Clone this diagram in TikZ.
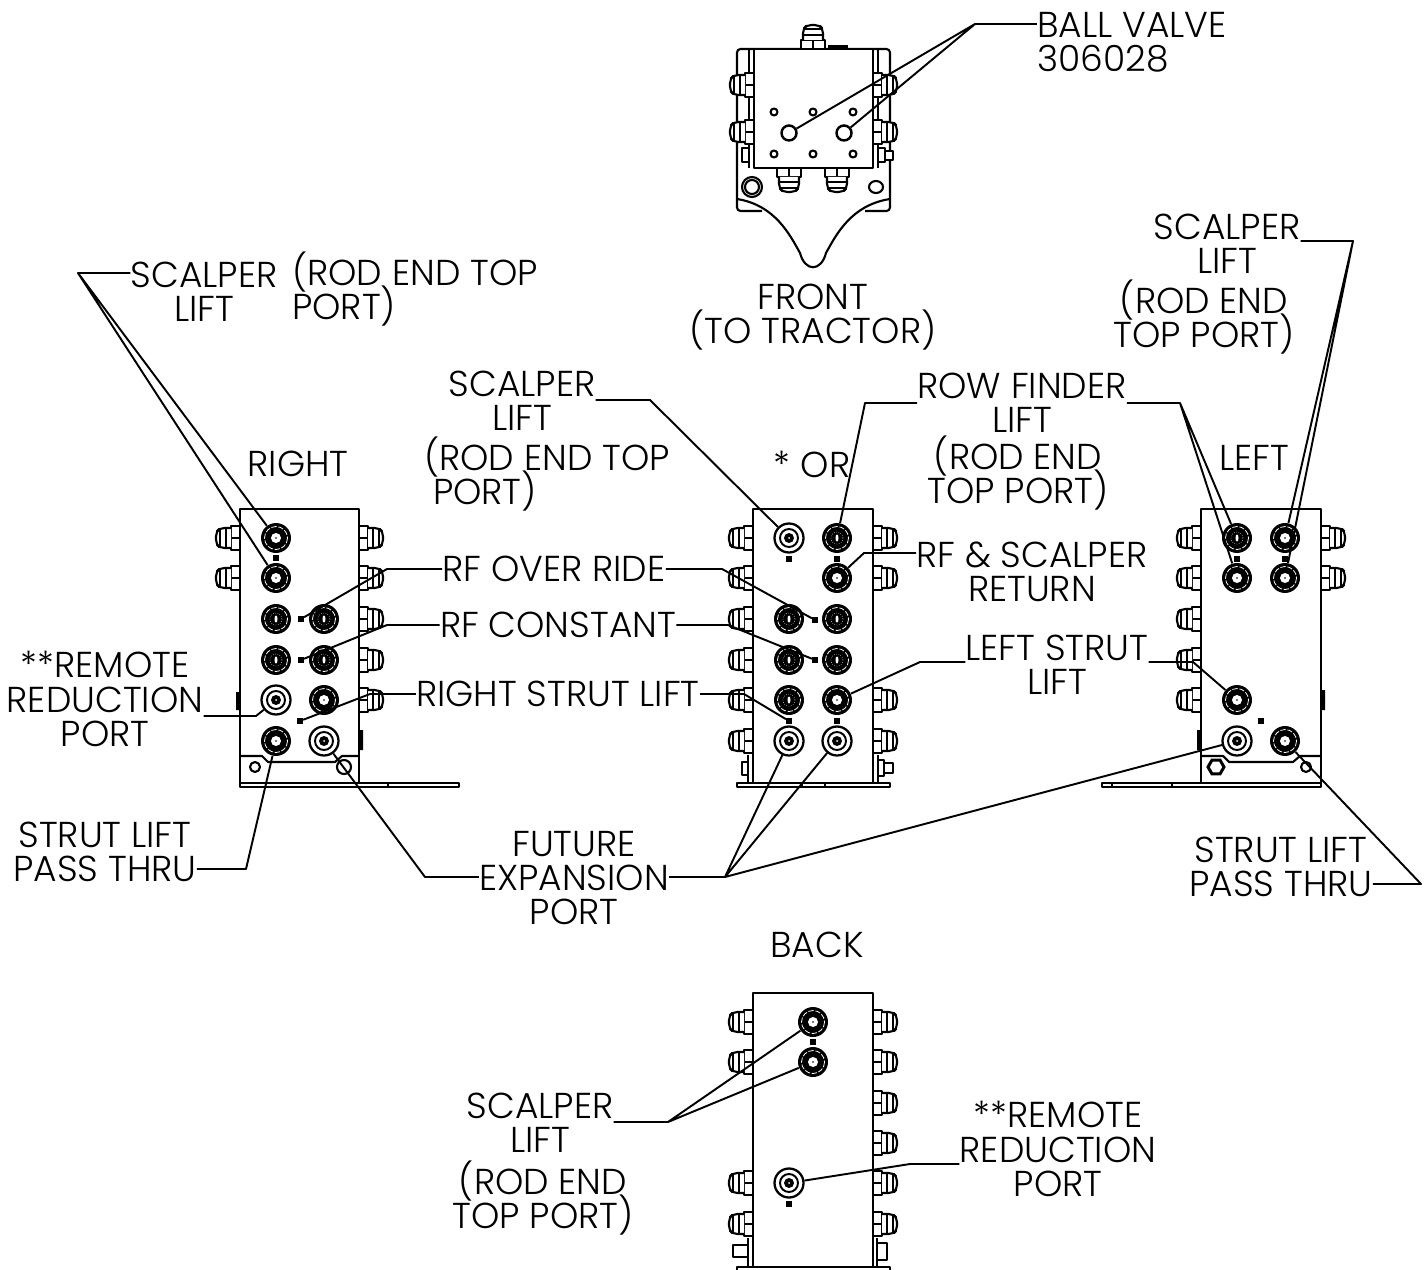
\documentclass[tikz,border=0pt]{standalone}
\usepackage{fontspec}
\usetikzlibrary{shapes.geometric}
\setmainfont{Poppins Light}
\tikzset{
  lbl/.style={align=center,inner sep=0pt,font=\fontsize{20.5}{19.4}\selectfont\lineskiplimit-20pt\relax},
  lbll/.style={lbl,align=left},
  part/.style={line width=1.2pt,line join=round},
  fine/.style={line width=.8pt},
  leader/.style={line width=1.1pt,line join=round},
  sq/.style={rectangle,fill=black,inner sep=0pt,minimum size=.11cm},
  portA/.style={circle,fill=black,inner sep=0pt,minimum size=.6cm,path picture={
    \draw[white,line width=.45pt,dash pattern=on 3pt off 1pt] (path picture bounding box.center) circle (11.5);
    \fill[white] (path picture bounding box.center) circle (5);
    \fill[black!70] (path picture bounding box.center) circle (1.2);}},
  portB/.style={circle,fill=black,inner sep=0pt,minimum size=.6cm,path picture={
    \draw[white,line width=.45pt,dash pattern=on 3pt off 1pt] (path picture bounding box.center) circle (11.5);
    \draw[white,line width=.3pt,densely dotted] (path picture bounding box.center) circle (6);
    \fill[white] (path picture bounding box.center) ellipse (1.5 and 3.5);}},
  portC/.style={circle,draw,line width=1.3pt,fill=white,inner sep=0pt,minimum size=.58cm,path picture={
    \draw[line width=1.1pt] (path picture bounding box.center) circle (9);
    \fill[black] (path picture bounding box.center) circle (5);
    \fill[white] (path picture bounding box.center) circle (1);}},
  fitting/.pic={
    \draw[part,fill=white] (0,-12)--(-9,-12)--(-9,12)--(0,12);
    \draw[part] (-9,0)--(0,0);
    \draw[part,fill=white,rounded corners=2.5pt] (-9,-10)--(-20,-10)--(-24,-6)--(-24,6)--(-20,10)--(-9,10);
    \draw[line width=1.6pt] (-20,-10)--(-20,10);
    \draw[part] (-14,-10)--(-14,10);}
}
\begin{document}
\begin{tikzpicture}[x=.02cm,y=-.02cm]
\useasboundingbox (0,0) rectangle (1427,1270);
%front
\draw[part,rounded corners=2pt](762,211)--(737,211)--(737,49)--(890,49)--(890,211)--(865,211);
\draw[part](737,199)..controls(775,205)and(790,235)..(800,253)..controls(805,272)and(821,272)..(826,253)..controls(836,235)and(851,205)..(890,199);
\draw[part](749,49)--(749,168)(878,49)--(878,168);
\fill(828,45)rectangle(848,49);
\draw[part,fill=white](742,148)rectangle(749,162);
\draw[part,fill=white](878,148)rectangle(885,162)(885,151)rectangle(893,160);
\foreach \yy in {85,132}{
  \pic at (754,\yy) {fitting};
  \pic[xscale=-1] at (873,\yy) {fitting};
}
\pic[rotate=-90] at (813,49) {fitting};
\pic[rotate=90] at (789,168) {fitting};
\pic[rotate=90] at (837,168) {fitting};
\draw[part,fill=white](754,49)rectangle(873,168);
\foreach \xx in {774,813,853}{
  \draw[part](\xx,112)circle(3.5);
  \draw[part](\xx,154)circle(3.5);
}
\node[circle,draw,line width=1.4pt,inner sep=0pt,minimum size=.3cm](fA)at(789,133){};
\node[circle,draw,line width=1.4pt,inner sep=0pt,minimum size=.3cm](fB)at(844,133){};
\draw[part](752,187)circle(10)(752,187)circle(7);
\draw[part](876,187)ellipse(7 and 6);
%right
\foreach \yy in {538,578}{\pic at (240,\yy) {fitting};}
\foreach \yy in {538,578,619,660,700}{\pic[xscale=-1] at (359,\yy) {fitting};}
\fill(236,692)rectangle(240,710)(359,730)rectangle(363,750);
\draw[part,fill=white](240,509)rectangle(359,783);
\draw[part](240,756)--(262,756)--(268,762)--(335,762)--(342,756)--(359,756);
\draw[part](255,767)circle(5)(344,767)circle(7);
\draw[part,fill=white](240,783)rectangle(459,787);
\draw[fine](388,783)--(388,787);
\foreach \nm/\st/\xx/\yy in {rAa/portA/276/538,rBa/portA/276/578,rCa/portB/276/619,rCb/portB/324/619,rDa/portB/276/660,rDb/portB/324/660,rEa/portC/276/700,rEb/portA/324/700,rFa/portA/276/741,rFb/portC/324/741}
  \node[\st](\nm)at(\xx,\yy){};
\foreach \nm/\xx/\yy in {rSa/276/558,rSb/301/619,rSc/301/660,rSd/300/721}
  \node[sq](\nm)at(\xx,\yy){};
%center
\foreach \yy in {538,578,619,660,700,741}{\pic at (753,\yy) {fitting};}
\foreach \yy in {538,578,700,741}{\pic[xscale=-1] at (873,\yy) {fitting};}
\draw[part](748,755)--(748,783)(878,755)--(878,783);
\draw[part,fill=white](742,762)rectangle(748,775);
\draw[part,fill=white](878,760)rectangle(884,776)(884,763)rectangle(893,773);
\draw[part,fill=white](753,509)rectangle(873,783);
\draw[part,fill=white](737,783)rectangle(890,787);
\draw[fine](802,783)--(802,787)(825,783)--(825,787);
\foreach \nm/\st/\xx/\yy in {cAa/portC/789/538,cAb/portB/837/538,cBb/portA/837/578,cCa/portB/789/619,cCb/portB/837/619,cDa/portB/789/660,cDb/portB/837/660,cEa/portB/789/700,cEb/portA/837/700,cFa/portC/789/741,cFb/portC/837/741}
  \node[\st](\nm)at(\xx,\yy){};
\foreach \nm/\xx/\yy in {cSa/789/559,cSb/837/559,cSc/815/620,cSd/815/660,cSe/789/721,cSf/837/721}
  \node[sq](\nm)at(\xx,\yy){};
%left
\foreach \yy in {538,578,619,660,700}{\pic at (1201,\yy) {fitting};}
\foreach \yy in {538,578}{\pic[xscale=-1] at (1321,\yy) {fitting};}
\fill(1321,690)rectangle(1325,710)(1197,730)rectangle(1201,750);
\draw[part,fill=white](1201,509)rectangle(1321,783);
\draw[part](1201,756)--(1223,756)--(1229,762)--(1293,762)--(1300,756)--(1321,756);
\node[draw,regular polygon,regular polygon sides=6,inner sep=0pt,minimum size=.32cm,line width=1.7pt](lHex)at(1216,767){};
\draw[part](1306,767)circle(5);
\draw[part,fill=white](1102,783)rectangle(1321,787);
\draw[fine](1172,783)--(1172,787)(1112,783)--(1112,787);
\foreach \nm/\st/\xx/\yy in {lAa/portB/1237/538,lAb/portA/1285/538,lBa/portA/1237/578,lBb/portA/1285/578,lEa/portA/1237/700,lFa/portC/1237/741,lFb/portA/1285/741}
  \node[\st](\nm)at(\xx,\yy){};
\foreach \nm/\xx/\yy in {lSa/1237/559,lSb/1285/559,lSc/1261/721}
  \node[sq](\nm)at(\xx,\yy){};
%back
\foreach \yy in {1022,1062,1183,1224}{\pic at (753,\yy) {fitting};}
\foreach \yy in {1022,1062,1103,1143,1183,1224}{\pic[xscale=-1] at (873,\yy) {fitting};}
\draw[part](748,1238)--(748,1267)(877,1238)--(877,1267);
\draw[part,fill=white](733,1245)rectangle(748,1257);
\draw[part,fill=white](877,1243)rectangle(887,1260);
\draw[part,fill=white](753,993)--(873,993)--(873,1267)--(753,1267)--cycle;
\draw[part,fill=white](737,1267)rectangle(890,1275);
\foreach \nm/\st/\xx/\yy in {bAa/portA/813/1022,bBa/portA/813/1062,bEa/portC/789/1183}
  \node[\st](\nm)at(\xx,\yy){};
\foreach \nm/\xx/\yy in {bSa/813/1042,bSb/789/1204}
  \node[sq](\nm)at(\xx,\yy){};
%labels
\node[lbll](tBall)at(1132,42){BALL VALVE\\306028};
\node[lbl](tFront)at(813,317){FRONT\\(TO TRACTOR)};
\node[lbl](tScalR)at(204,292){SCALPER\\LIFT};
\node[lbll](tRodR)at(415,289){(ROD END TOP\\PORT)};
\node[lbl](tRight)at(298,464){RIGHT};
\node[lbl](tScalC)at(522,401){SCALPER\\LIFT};
\node[lbll](tRodC)at(547,474){(ROD END TOP\\\hspace{5pt}PORT)};
\node[lbl](tOr)at(812,464){* OR};
\node[lbl](tRow)at(1022,403){ROW FINDER\\LIFT};
\node[lbl](tRodF)at(1018,473){(ROD END\\TOP PORT)};
\node[lbl](tLeft)at(1254,458){LEFT};
\node[lbl](tScalL)at(1227,244){SCALPER\\LIFT};
\node[lbl](tRodL)at(1204,317){(ROD END\\TOP PORT)};
\node[lbl](tOver)at(554,569){RF OVER RIDE};
\node[lbl](tConst)at(558,625){RF CONSTANT};
\node[lbl](tStrutR)at(558,694){RIGHT STRUT LIFT};
\node[lbl](tReturn)at(1032,572){RF \& SCALPER\\RETURN};
\node[lbl](tStrutL)at(1057,665){LEFT STRUT\\LIFT};
\node[lbl](tRemR)at(105,699){**REMOTE\\REDUCTION\\PORT};
\node[lbl](tPassR)at(105,852){STRUT LIFT\\PASS THRU};
\node[lbl](tFuture)at(574,878){FUTURE\\EXPANSION\\PORT};
\node[lbl](tPassL)at(1281,867){STRUT LIFT\\PASS THRU};
\node[lbl](tBack)at(817,945){BACK};
\node[lbl](tScalB)at(540,1123){SCALPER\\LIFT};
\node[lbl](tRodB)at(543,1198){(ROD END\\TOP PORT)};
\node[lbl](tRemB)at(1058,1149){**REMOTE\\REDUCTION\\PORT};
%elbows
\coordinate(eBall)at(975,24);
\coordinate(eScalR)at(78,273);
\coordinate(eOverR)at(387,569);
\coordinate(eConstR)at(387,625);
\coordinate(eStrutR)at(370,694);
\coordinate(eOverC)at(722,569);
\coordinate(eConstC)at(728,625);
\coordinate(eStrutC)at(744,694);
\coordinate(eScalC)at(650,400);
\coordinate(eRowC)at(865,403);
\coordinate(eReturn)at(864,553);
\coordinate(eStrutL)at(920,662);
\coordinate(eRowL)at(1180,403);
\coordinate(eScalL)at(1353,241);
\coordinate(eStrutLL)at(1193,662);
\coordinate(eFutL)at(425,877);
\coordinate(eFutR)at(725,877);
\coordinate(ePassR)at(246,869);
\coordinate(eRemR)at(256,716);
\coordinate(ePassL)at(1421,884);
\coordinate(eScalB)at(668,1122);
\coordinate(eRemB)at(910,1164);
%leaders
\draw[leader](tBall.west|-eBall)--(eBall)--(fA)(eBall)--(fB);
\draw[leader](tScalR.west|-eScalR)--(eScalR)--(rAa)(eScalR)--(rBa);
\draw[leader](tOver.west)--(eOverR)--(rSb);
\draw[leader](tConst.west)--(eConstR)--(rSc);
\draw[leader](tStrutR.west)--(eStrutR)--(rSd);
\draw[leader](tOver.east)--(eOverC)--(cSc);
\draw[leader](tConst.east)--(eConstC)--(cSd);
\draw[leader](tStrutR.east)--(eStrutC)--(cSe);
\draw[leader](tScalC.east|-eScalC)--(eScalC)--(cAa);
\draw[leader](tRow.west|-eRowC)--(eRowC)--(cAb);
\draw[leader](tReturn.west|-eReturn)--(eReturn)--(cBb);
\draw[leader](tStrutL.west|-eStrutL)--(eStrutL)--(cEb);
\draw[leader](tRow.east|-eRowL)--(eRowL)--(lAa)(eRowL)--(lBa);
\draw[leader](tScalL.east|-eScalL)--(eScalL)--(lAb)(eScalL)--(lBb);
\draw[leader](tStrutL.east|-eStrutLL)--(eStrutLL)--(lEa);
\draw[leader](tFuture.west|-eFutL)--(eFutL)--(rFb);
\draw[leader](tFuture.east|-eFutR)--(eFutR)--(cFa)(eFutR)--(cFb)(eFutR)--(lFa);
\draw[leader](tPassR.east|-ePassR)--(ePassR)--(rFa);
\draw[leader](tRemR.east|-eRemR)--(eRemR)--(rEa);
\draw[leader](tPassL.east|-ePassL)--(ePassL)--(lFb);
\draw[leader](tScalB.east|-eScalB)--(eScalB)--(bAa)(eScalB)--(bBa);
\draw[leader](tRemB.west|-eRemB)--(eRemB)--(bEa);
\end{tikzpicture}
\end{document}
